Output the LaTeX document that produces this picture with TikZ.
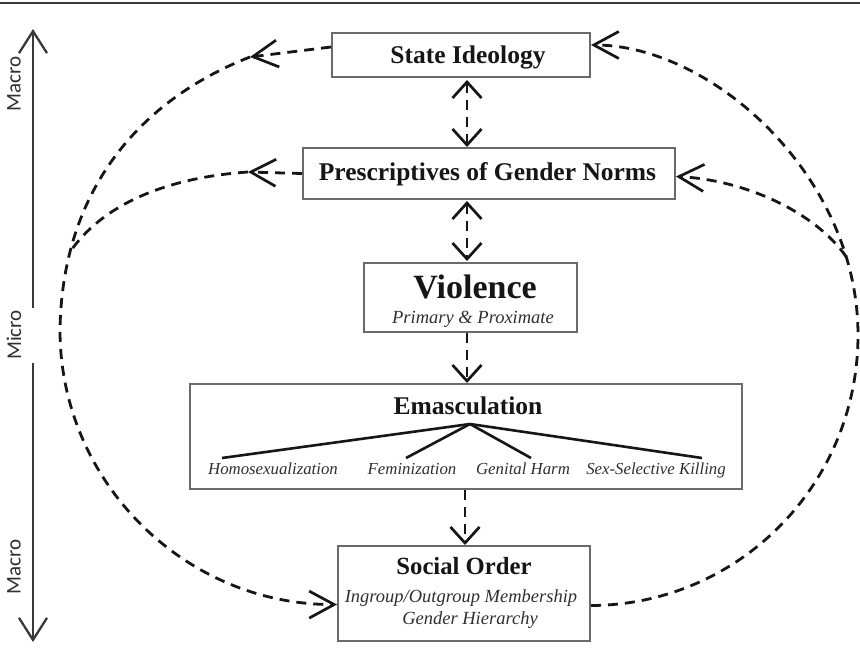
\documentclass[tikz,border=0pt]{standalone}
\usepackage{fontspec}
\setmainfont{Liberation Serif}
\newfontfamily\axisfont{Carlito}
\usetikzlibrary{arrows.meta}
\definecolor{boxgray}{HTML}{6A6A6A}
\definecolor{ink}{HTML}{161616}
\definecolor{txtgray}{HTML}{303030}
\begin{document}
\begin{tikzpicture}[x=1pt,y=-1pt,
  box/.style={draw=boxgray, line width=2pt, inner sep=0pt},
  titlef/.style={font=\fontsize{25.5}{28}\selectfont\bfseries, text=ink, inner sep=0pt, anchor=base},
  subf/.style={font=\fontsize{18.5}{21}\selectfont\itshape, text=txtgray, inner sep=0pt, anchor=base},
  leaff/.style={font=\fontsize{16.8}{19}\selectfont\itshape, text=txtgray, inner sep=0pt, anchor=base},
  axisf/.style={font=\axisfont\fontsize{21}{23}\selectfont, text=txtgray, rotate=90, inner sep=0pt},
  dline/.style={draw=ink, line width=2.8pt, dash pattern=on 10pt off 7pt},
  harr/.style={-{Straight Barb[length=25pt,width=27pt,line width=2.7pt]}},
  varr/.style={-{Straight Barb[length=16pt,width=29pt,line width=2.7pt]}},
  vdarr/.style={{Straight Barb[length=16pt,width=29pt,line width=2.7pt]}-{Straight Barb[length=16pt,width=29pt,line width=2.7pt]}},
  axarr/.style={-{Straight Barb[length=22pt,width=28pt,line width=2.3pt]}},
  treeline/.style={draw=ink, line width=2.6pt}
]
\useasboundingbox (0,0) rectangle (860,670);
\fill[white] (0,0) rectangle (860,670);
% top rule
\coordinate (r1) at (0,3);
\coordinate (r2) at (860,3);
\draw[line width=2.5pt, color=ink!85] (r1) -- (r2);

% axis
\coordinate (at1) at (33,308);
\coordinate (at2) at (33,29);
\coordinate (ab1) at (33,363);
\coordinate (ab2) at (33,642);
\draw[line width=2.2pt, color=ink!85, axarr] (at1) -- (at2);
\draw[line width=2.2pt, color=ink!85, axarr] (ab1) -- (ab2);
\node[axisf] (mac1) at (14,84) {Macro};
\node[axisf] (mic) at (14,335) {Micro};
\node[axisf] (mac2) at (14,567) {Macro};

% boxes
\node[box, minimum width=258pt, minimum height=44pt] (si) at (461,55) {};
\node[titlef] (sit) at (468,63) {State Ideology};
\node[box, minimum width=372pt, minimum height=51pt] (pg) at (489,173.5) {};
\node[titlef] (pgt) at (487.5,180) {Prescriptives of Gender Norms};
\node[box, minimum width=213pt, minimum height=69pt] (vi) at (470.5,297.5) {};
\node[titlef, font=\fontsize{34}{38}\selectfont\bfseries] (vit) at (475,298) {Violence};
\node[subf] (vis) at (473,323) {Primary \& Proximate};
\node[box, minimum width=552pt, minimum height=105pt] (em) at (466,436.5) {};
\node[titlef] (emt) at (468,414) {Emasculation};
\node[box, minimum width=252pt, minimum height=95pt] (so) at (464,593.5) {};
\node[titlef, font=\fontsize{24.7}{28}\selectfont\bfseries] (sot) at (464,574) {Social Order};
\node[subf] (sos1) at (461,602) {Ingroup/Outgroup Membership};
\node[subf] (sos2) at (470,624) {Gender Hierarchy};

% emasculation tree
\coordinate (hub) at (470,424);
\node[leaff] (l1) at (273,474) {Homosexualization};
\node[leaff] (l2) at (412,474) {Feminization};
\node[leaff] (l3) at (523,474) {Genital Harm};
\node[leaff] (l4) at (656,474) {Sex-Selective Killing};
\coordinate (e1) at (222,458);
\coordinate (e2) at (406,458);
\coordinate (e3) at (531,458);
\coordinate (e4) at (702,458);
\draw[treeline] (hub) -- (e1);
\draw[treeline] (hub) -- (e2);
\draw[treeline] (hub) -- (e3);
\draw[treeline] (hub) -- (e4);

% vertical connectors
\coordinate (ax) at (467,0);
\coordinate (bx) at (465,0);
\draw[dline, vdarr] ([yshift=-2pt]si.south -| ax) -- (pg.north -| ax);
\draw[dline, vdarr] ([yshift=-1pt]pg.south -| ax) -- ([yshift=1pt]vi.north -| ax);
\draw[dline, varr] (vi.south -| ax) -- (em.north -| ax);
\draw[dline, varr] (em.south -| bx) -- (so.north -| bx);

% right loop
\coordinate (rc) at (858,335);
\coordinate (rb) at (846,256.5);
\draw[dline, harr] ([yshift=-12pt]so.east) .. controls (738,605) and (858,485) .. (rc)
   .. controls (858,175) and (711,45) .. ([yshift=10pt]si.east);
\draw[dline, harr] (rb) .. controls (815,212) and (745,180) .. ([yshift=-3pt]pg.east);

% left loop
\coordinate (la) at (250,57);
\coordinate (lb) at (248,172);
\coordinate (lc) at (60,330);
\coordinate (lj) at (70,252);
\draw[dline, harr] ([yshift=8pt]si.west) -- (la);
\draw[dline, harr] (la) .. controls (140,100) and (62,190) .. (lc)
   .. controls (60,482) and (185,605) .. ([yshift=-11pt]so.west);
\draw[dline, harr] (pg.west) -- (lb);
\draw[dline] (lb) .. controls (160,178) and (100,208) .. (lj);
\end{tikzpicture}
\end{document}
